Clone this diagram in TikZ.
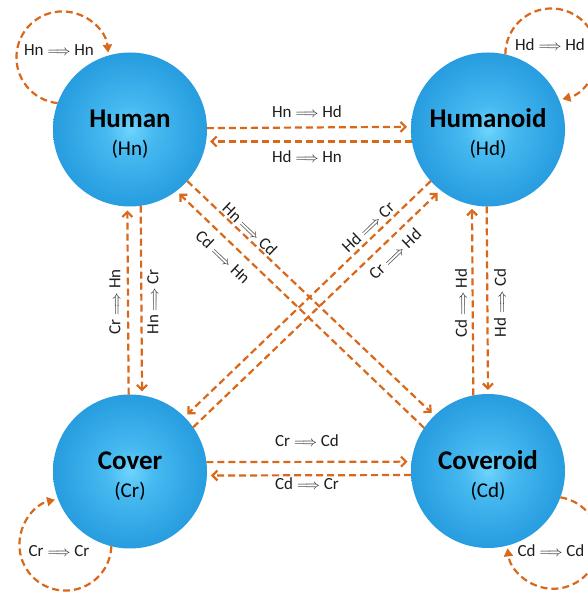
\documentclass[tikz,border=0pt]{standalone}
\usepackage{fontspec}
\setmainfont{Carlito}
\usetikzlibrary{arrows.meta}
\definecolor{arrowor}{RGB}{217,104,26}
\definecolor{labgray}{RGB}{30,30,30}
\definecolor{bcenter}{RGB}{110,212,252}
\definecolor{binner}{RGB}{70,185,240}
\definecolor{bmid}{RGB}{30,148,218}
\definecolor{bouter}{RGB}{20,115,188}
\definecolor{bedge}{RGB}{10,85,150}
\pgfdeclareradialshading{ballblue}{\pgfpoint{0bp}{0bp}}{color(0bp)=(bcenter); color(8bp)=(binner); color(30bp)=(bmid); color(45bp)=(bouter); color(50bp)=(bedge)}
\newcommand{\imp}{{\fontsize{14}{14}\selectfont$\Longrightarrow$}}
\newcommand{\nm}[1]{{\rule{0pt}{27pt}\fontsize{27}{28}\selectfont\bfseries #1}}
\tikzset{
  ball/.style={circle, minimum size=154pt, inner sep=0pt, outer sep=0pt, shading=ballblue, align=center, text=black, font=\fontsize{21}{28}\selectfont},
  rel/.style={draw=arrowor, line width=2.2pt, dash pattern=on 7pt off 4pt, -{Straight Barb[length=5pt,width=10pt]}, shorten >=4pt},
  selfrel/.style={draw=arrowor, line width=2.2pt, dash pattern=on 7pt off 4pt, -{Triangle[length=8pt,width=9pt]}},
  lab/.style={font=\fontsize{17}{20}\selectfont, text=labgray, inner sep=1pt},
}
\begin{document}
\begin{tikzpicture}[x=1pt,y=1pt]
\fill[white] (0,0) rectangle (588,594);
\useasboundingbox (0,0) rectangle (588,594);
% nodes
\node[ball] (Hn) at (130,464.5) {\nm{Human}\\(Hn)};
\node[ball] (Hd) at (488,464.5) {\nm{Humanoid}\\(Hd)};
\node[ball] (Cr) at (130,122.5) {\nm{Cover}\\(Cr)};
\node[ball] (Cd) at (488,123) {\nm{Coveroid}\\(Cd)};
% horizontal
\draw[rel] (Hn.1.1) -- (Hd.178.9);
\draw[rel] (Hd.189.3) -- (Hn.-9.3);
\draw[rel] (Cr.7.1) -- (Cd.173.3);
\draw[rel] (Cd.183.7) -- (Cr.-3.4);
% vertical
\draw[rel] (Cr.91.5) -- (Hn.268.5);
\draw[rel] (Hn.278.2) -- (Cr.81.8);
\draw[rel] (Cd.101.2) -- (Hd.258.8);
\draw[rel] (Hd.269.3) -- (Cd.90.7);
% diagonals
\draw[rel] (Hn.-42.2) -- (Cd.134.9);
\draw[rel] (Cd.146.1) -- (Hn.-53.4);
\draw[rel] (Hd.-138.5) -- (Cr.45.9);
\draw[rel] (Cr.35.5) -- (Hd.-128.1);
% self loops
\draw[selfrel] (Hn.160) arc[start angle=264, end angle=6, radius=46];
\draw[selfrel] (Hd.77.5) arc[start angle=180, end angle=-76, radius=46];
\draw[selfrel] (Cr.-104.6) arc[start angle=-2, end angle=-257, radius=46];
\draw[selfrel] (Cd.-20.6) arc[start angle=81, end angle=-173, radius=46];
% labels
\node[lab] (lHnHn) at (59,544) {Hn\ \imp\ Hn};
\node[lab] (lHdHd) at (550,549) {Hd\ \imp\ Hd};
\node[lab] (lCrCr) at (59,43) {Cr\ \imp\ Cr};
\node[lab] (lCdCd) at (551,43) {Cd\ \imp\ Cd};
\node[lab] (lHnHd) at (307,482) {Hn\ \imp\ Hd};
\node[lab] (lHdHn) at (307,437) {Hd\ \imp\ Hn};
\node[lab] (lCrCd) at (307,153) {Cr\ \imp\ Cd};
\node[lab] (lCdCr) at (307,110) {Cd\ \imp\ Cr};
\node[lab, rotate=90] (lCrHn) at (115,292) {Cr\ \imp\ Hn};
\node[lab, rotate=90] (lHnCr) at (153,292) {Hn\ \imp\ Cr};
\node[lab, rotate=90] (lCdHd) at (461,291) {Cd\ \imp\ Hd};
\node[lab, rotate=90] (lHdCd) at (500,291) {Hd\ \imp\ Cd};
\node[lab, rotate=-43.65] (lHnCd) at (250,365) {Hn\ \imp\ Cd};
\node[lab, rotate=-43.65] (lCdHn) at (223,337) {Cd\ \imp\ Hn};
\node[lab, rotate=43.7] (lHdCr) at (368,367) {Hd\ \imp\ Cr};
\node[lab, rotate=43.7] (lCrHd) at (395,340) {Cr\ \imp\ Hd};
\end{tikzpicture}
\end{document}
